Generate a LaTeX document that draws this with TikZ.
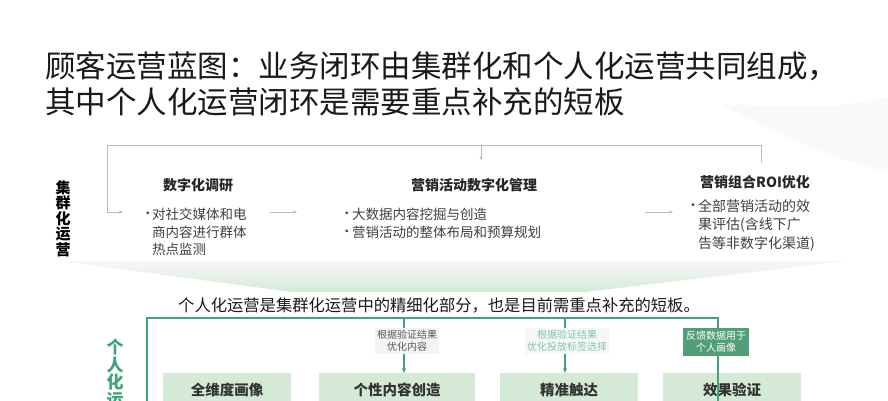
\documentclass[tikz,border=0pt]{standalone}
\usepackage{fontspec}
\setmainfont{Noto Sans CJK SC}
\usetikzlibrary{positioning,arrows.meta}
\definecolor{loopgreen}{RGB}{62,165,120}
\definecolor{boxgreen}{RGB}{212,234,214}
\definecolor{darklabel}{RGB}{82,158,118}
\definecolor{palelabel}{RGB}{128,198,166}
\newcommand{\bulletline}{\vphantom{国}•}
\begin{document}
\begin{tikzpicture}[x=1pt,y=-1pt,
  headstyle/.style={font=\fontsize{14}{16}\selectfont\bfseries,text=black!85,inner sep=0},
  dotstyle/.style={font=\fontsize{13.5}{17.5}\selectfont,text=black!70,align=left,anchor=north west,inner sep=0},
  textstyle/.style={font=\fontsize{13.5}{17.5}\selectfont,text=black!75,align=left,anchor=north west,inner sep=0},
  greyline/.style={draw=gray!55,line width=0.7pt},
  greyarrow/.style={greyline,-{Stealth[length=4pt,width=3pt]}},
  loopline/.style={draw=loopgreen,line width=1.6pt},
  looparrow/.style={loopline,-{Stealth[length=5pt,width=4pt]}},
  greenbox/.style={fill=boxgreen,anchor=north west,minimum height=34,inner sep=0,font=\fontsize{14.5}{16}\selectfont\bfseries,text=black!80},
  notestyle/.style={font=\fontsize{10}{12}\selectfont,align=center,inner sep=2pt}]
\clip (0,0) rectangle (888,400);
\useasboundingbox (0,0) rectangle (888,400);
\fill[white] (0,0) rectangle (888,400);
\fill[gray!5] (720,104) .. controls (785,140) and (840,160) .. (888,172) -- (888,98) .. controls (830,108) .. (720,104);
\node[anchor=west,inner sep=0,font=\fontsize{30.5}{36}\selectfont,text=black!90] (title1) at (45,66) {顾客运营蓝图：业务闭环由集群化和个人化运营共同组成，};
\node[anchor=west,inner sep=0,font=\fontsize{30.5}{36}\selectfont,text=black!90] (title2) at (45,102) {其中个人化运营闭环是需要重点补充的短板};
\node[anchor=north,align=center,inner sep=0,font=\fontsize{15}{15.5}\selectfont\bfseries] (cluster) at (63,180) {集\\群\\化\\运\\营};
\node[headstyle] (research) at (198,185) {数字化调研};
\node[headstyle] (manage) at (474,185) {营销活动数字化管理};
\node[headstyle] (roi) at (755,182) {营销组合ROI优化};
\node[dotstyle] (researchdot) at (141,208) {\bulletline};
\node[textstyle] (researchtext) at (152,208) {对社交媒体和电\\商内容进行群体\\热点监测};
\node[dotstyle] (managedot) at (340,208) {\bulletline\\\bulletline};
\node[textstyle] (managetext) at (352,208) {大数据内容挖掘与创造\\营销活动的整体布局和预算规划};
\node[dotstyle,font=\fontsize{14}{18.5}\selectfont] (roidot) at (686,199) {\bulletline};
\node[textstyle,font=\fontsize{14}{18.5}\selectfont] (roitext) at (698,199) {全部营销活动的效\\果评估(含线下广\\告等非数字化渠道)};
\coordinate (topleft) at (107,145);
\coordinate (topright) at (761,145);
\coordinate (topmid) at (481,145);
\coordinate (midtip) at (481,160);
\coordinate (rightend) at (761,162);
\coordinate (lefttip) at (123,212);
\coordinate (arrowAs) at (270,212);
\coordinate (arrowAe) at (297,212);
\coordinate (arrowBs) at (645,212);
\coordinate (arrowBe) at (673,212);
\draw[greyline] (rightend) -- (topright) -- (topleft);
\draw[greyarrow] (topleft) |- (lefttip);
\draw[greyarrow] (topmid) -- (midtip);
\draw[greyarrow] (arrowAs) -- (arrowAe);
\draw[greyarrow] (arrowBs) -- (arrowBe);
\shade[top color=gray!6,bottom color=boxgreen] (60,261) -- (845,261) -- (585,292) -- (292,292) -- cycle;
\node[inner sep=0,font=\fontsize{16.3}{18}\selectfont,text=black!90] (shortboard) at (439,305) {个人化运营是集群化运营中的精细化部分，也是目前需重点补充的短板。};
\node[anchor=north,align=center,inner sep=0,font=\fontsize{17}{17.5}\selectfont\bfseries,text=loopgreen] (personal) at (115,339) {个\\人\\化\\运\\营};
\node[greenbox,minimum width=128] (portrait) at (163,373) {全维度画像};
\node[greenbox,minimum width=156] (content) at (319,373) {个性内容创造};
\node[greenbox,minimum width=138] (reach) at (500,373) {精准触达};
\node[greenbox,minimum width=138] (verify) at (663,373) {效果验证};
\coordinate (loopBL) at (147,410);
\coordinate (loopTL) at (147,318);
\coordinate (loopTR) at (718,318);
\coordinate (loopBR) at (718,410);
\coordinate (contentin) at (404,318);
\coordinate (reachin) at (565,318);
\draw[loopline] (loopBL) -- (loopTL) -- (loopTR) -- (loopBR);
\draw[looparrow] (contentin) -- (content.north -| contentin);
\draw[looparrow] (reachin) -- (reach.north -| reachin);
\node[notestyle,fill=gray!9,text=black!65] (contentnote) at (407,341) {根据验证结果\\优化内容};
\node[notestyle,fill=gray!6,text=palelabel] (reachnote) at (567,341) {根据验证结果\\优化投放标签选择};
\node[notestyle,fill=darklabel,text=white,inner sep=3pt] (feedback) at (716,342) {反馈数据用于\\个人画像};
\end{tikzpicture}
\end{document}
